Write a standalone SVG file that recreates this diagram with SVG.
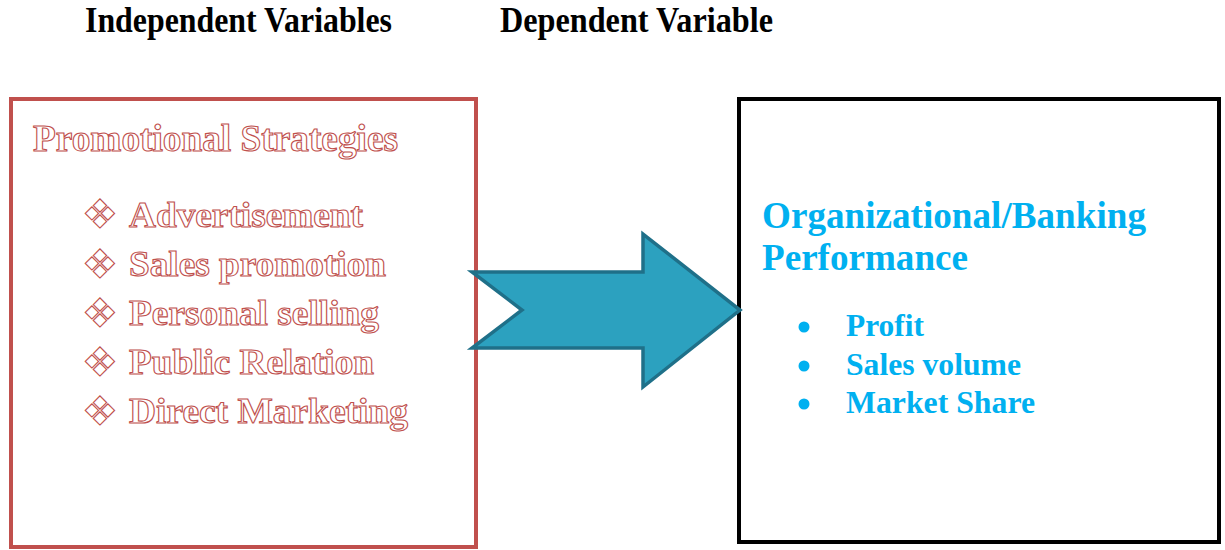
<svg xmlns="http://www.w3.org/2000/svg" width="1225" height="550" viewBox="0 0 1225 550">
<style>
.hdr{font-family:"Liberation Serif",serif;font-weight:bold;font-size:35px;fill:#000}
.out{font-family:"Liberation Serif",serif;font-weight:bold;fill:#fff;stroke:#c0504d;stroke-width:1.1}
.dia{font-family:"DejaVu Sans",sans-serif;font-size:40px;fill:#fff;stroke:#c0504d;stroke-width:1.1}
.blue{font-family:"Liberation Serif",serif;font-weight:bold;fill:#00b0f0}
</style>
<rect width="1225" height="550" fill="#fff"/>
<text class="hdr" x="85" y="32" textLength="307" lengthAdjust="spacingAndGlyphs">Independent Variables</text>
<text class="hdr" x="500" y="32" textLength="273" lengthAdjust="spacingAndGlyphs">Dependent Variable</text>
<g id="independent">
<rect x="11" y="99" width="465" height="448" fill="#fff" stroke="#c0504d" stroke-width="4"/>
<text class="out" x="33" y="151" font-size="37" textLength="365" lengthAdjust="spacingAndGlyphs">Promotional Strategies</text>
<text class="dia" x="82" y="228">❖</text><text class="out" x="129" y="226.5" font-size="36" textLength="234" lengthAdjust="spacingAndGlyphs">Advertisement</text>
<text class="dia" x="82" y="277.5">❖</text><text class="out" x="129" y="276" font-size="36" textLength="257" lengthAdjust="spacingAndGlyphs">Sales promotion</text>
<text class="dia" x="82" y="326.5">❖</text><text class="out" x="129" y="325" font-size="36" textLength="250" lengthAdjust="spacingAndGlyphs">Personal selling</text>
<text class="dia" x="82" y="375.5">❖</text><text class="out" x="129" y="374" font-size="36" textLength="245" lengthAdjust="spacingAndGlyphs">Public Relation</text>
<text class="dia" x="82" y="424.5">❖</text><text class="out" x="129" y="423" font-size="36" textLength="279" lengthAdjust="spacingAndGlyphs">Direct Marketing</text>
</g>
<g id="dependent">
<rect x="739" y="99" width="480" height="443" fill="#fff" stroke="#000" stroke-width="4"/>
<text class="blue" x="762" y="228" font-size="38" textLength="384" lengthAdjust="spacingAndGlyphs">Organizational/Banking</text>
<text class="blue" x="762" y="270" font-size="38" textLength="206" lengthAdjust="spacingAndGlyphs">Performance</text>
<circle cx="804" cy="327" r="5.5" fill="#00b0f0"/><text class="blue" x="846" y="336" font-size="32" textLength="78" lengthAdjust="spacingAndGlyphs">Profit</text>
<circle cx="804" cy="366" r="5.5" fill="#00b0f0"/><text class="blue" x="846" y="375" font-size="32" textLength="175" lengthAdjust="spacingAndGlyphs">Sales volume</text>
<circle cx="804" cy="404" r="5.5" fill="#00b0f0"/><text class="blue" x="846" y="413" font-size="32" textLength="189" lengthAdjust="spacingAndGlyphs">Market Share</text>
</g>
<g id="connectors">
<polygon points="472,272 643,272 643,234 740,310 643,387 643,348 472,348 522,310" fill="#2ca1bf" stroke="#1f7089" stroke-width="3.5" stroke-linejoin="miter"/>
</g>
</svg>
